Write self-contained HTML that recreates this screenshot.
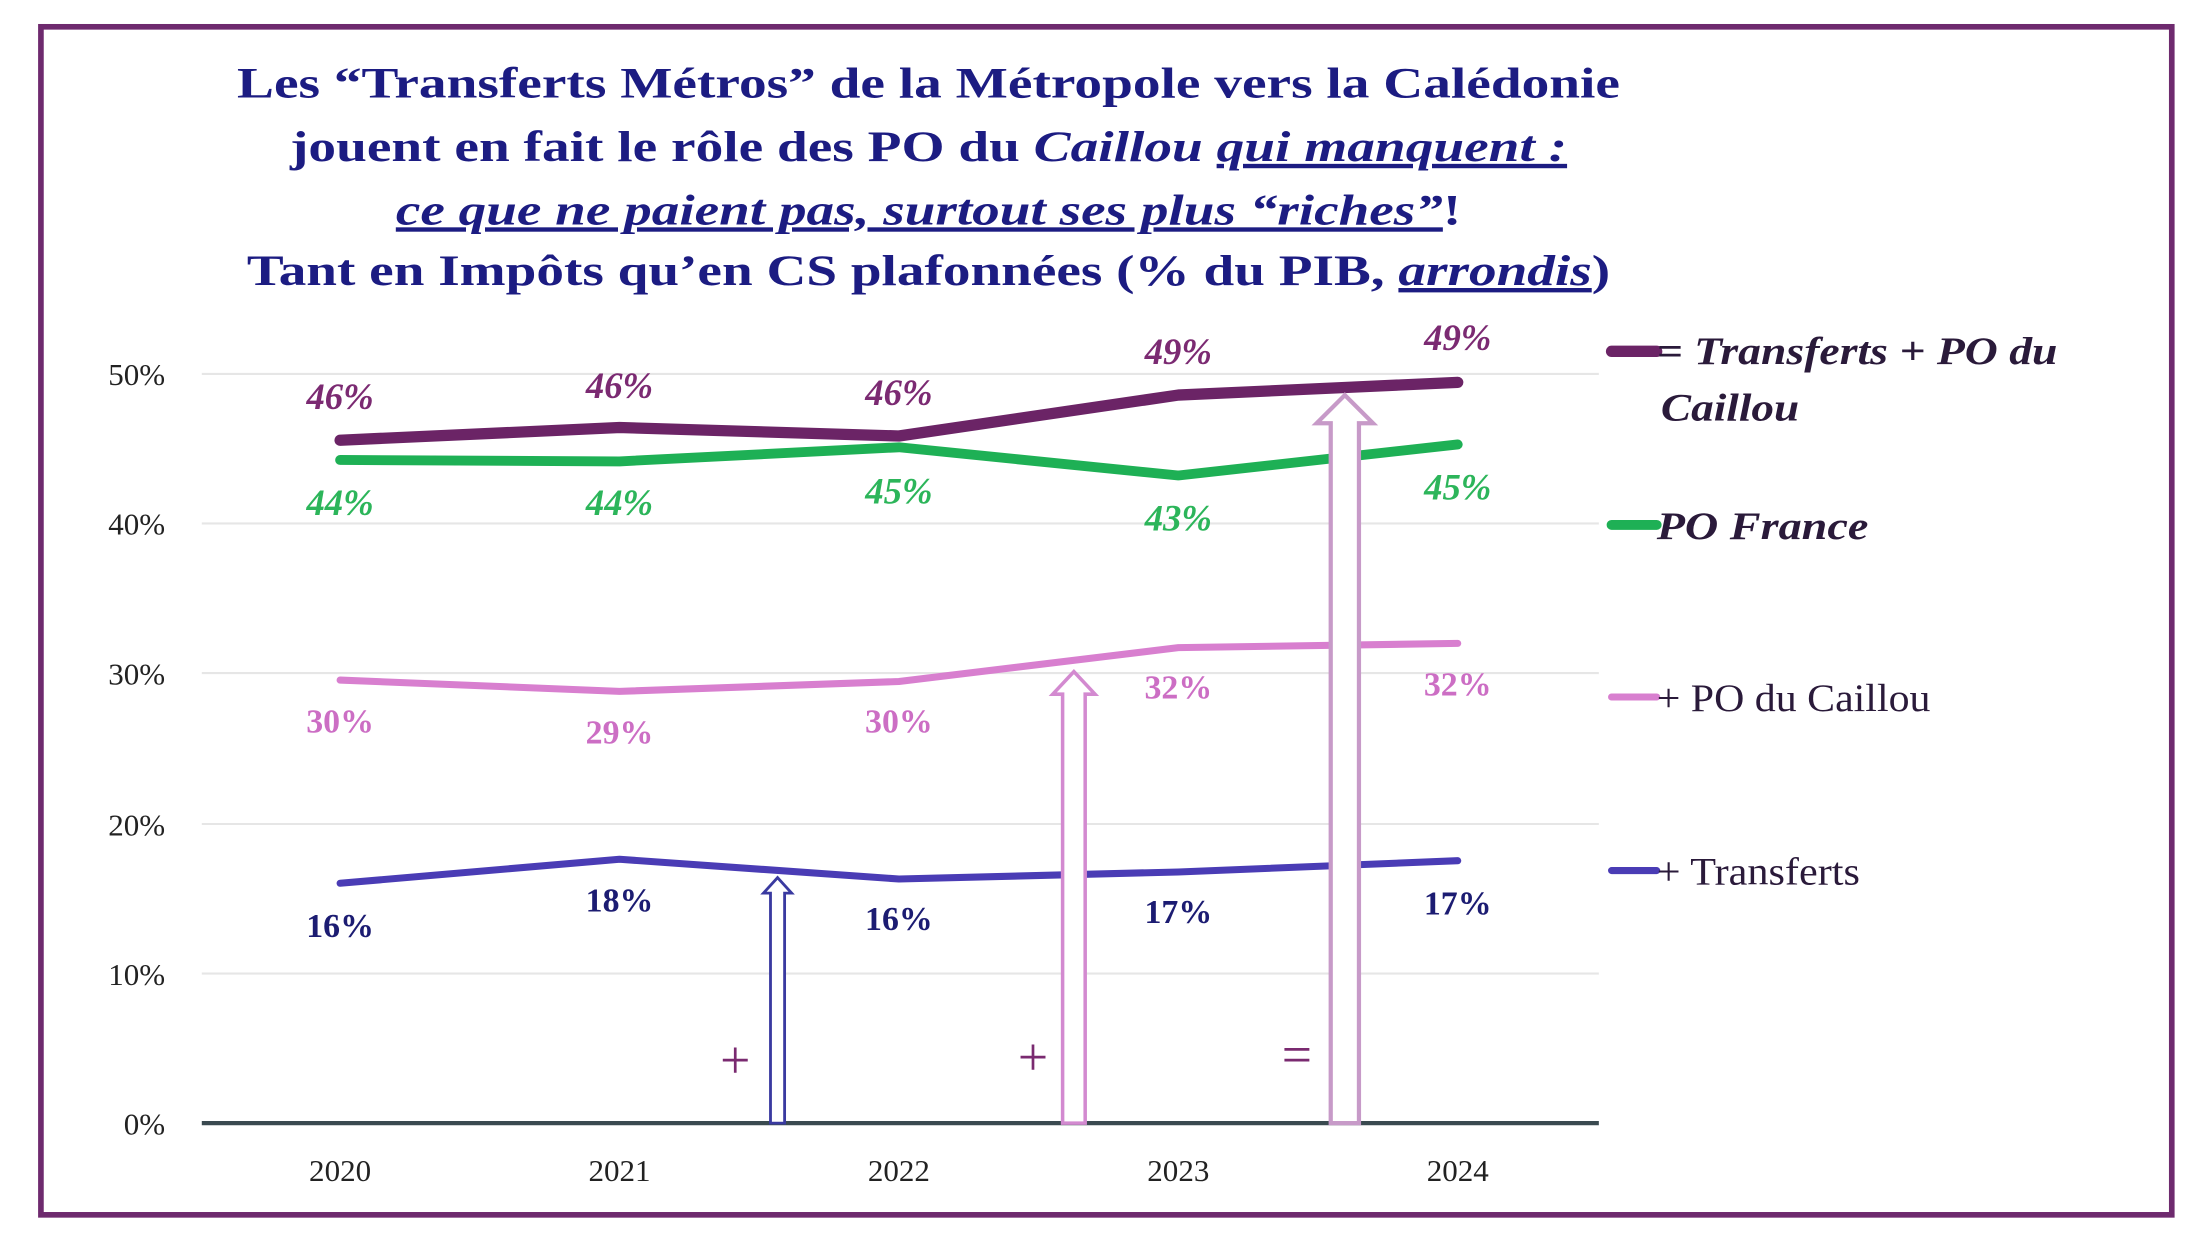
<!DOCTYPE html>
<html><head><meta charset="utf-8"><style>html,body{margin:0;padding:0;background:#fff}svg{display:block}</style></head>
<body>
<svg width="2200" height="1236" viewBox="0 0 1559 876" preserveAspectRatio="none" xmlns="http://www.w3.org/2000/svg">
<rect x="0" y="0" width="1559" height="876" fill="#fff"/>
<rect x="29" y="19" width="1510" height="842" fill="none" stroke="#6e2a6e" stroke-width="4"/>
<g font-family="Liberation Serif, serif" font-weight="bold" font-size="31" fill="#1c1c82" text-anchor="middle">
<text x="658" y="69" textLength="980" lengthAdjust="spacingAndGlyphs">Les “Transferts Métros” de la Métropole vers la Calédonie</text>
<text x="658" y="114" textLength="905" lengthAdjust="spacingAndGlyphs">jouent en fait le rôle des PO du <tspan font-style="italic">Caillou</tspan> <tspan font-style="italic" text-decoration="underline">qui manquent :</tspan></text>
<text x="658" y="159" textLength="755" lengthAdjust="spacingAndGlyphs"><tspan font-style="italic" text-decoration="underline">ce que ne paient pas, surtout ses plus “riches”</tspan>!</text>
<text x="658" y="202" textLength="966" lengthAdjust="spacingAndGlyphs">Tant en Impôts qu’en CS plafonnées (% du PIB, <tspan font-style="italic" text-decoration="underline">arrondis</tspan>)</text>
</g>
<g stroke="#e6e6e6" stroke-width="1.5">
<line x1="143" x2="1133" y1="265" y2="265"/><line x1="143" x2="1133" y1="371" y2="371"/>
<line x1="143" x2="1133" y1="477" y2="477"/><line x1="143" x2="1133" y1="584" y2="584"/>
<line x1="143" x2="1133" y1="690" y2="690"/>
</g>
<line x1="143" x2="1133" y1="796" y2="796" stroke="#3a4a50" stroke-width="3"/>
<g font-family="Liberation Serif, serif" font-size="22" fill="#222" text-anchor="end">
<text x="117" y="273">50%</text><text x="117" y="379">40%</text><text x="117" y="485">30%</text>
<text x="117" y="592">20%</text><text x="117" y="698">10%</text><text x="117" y="804">0%</text>
</g>
<g font-family="Liberation Serif, serif" font-size="22" fill="#222" text-anchor="middle">
<text x="241" y="837">2020</text><text x="439" y="837">2021</text><text x="637" y="837">2022</text><text x="835" y="837">2023</text><text x="1033" y="837">2024</text>
</g>
<g fill="none" stroke-linejoin="round" stroke-linecap="round">
<polyline points="241,312 439,303 637,309 835,280 1033,271" stroke="#6b2466" stroke-width="8"/>
<polyline points="241,326 439,327 637,317 835,337 1033,315" stroke="#1eb055" stroke-width="7"/>
<polyline points="241,482 439,490 637,483 835,459 1033,456" stroke="#d87fcf" stroke-width="5"/>
<polyline points="241,626 439,609 637,623 835,618 1033,610" stroke="#4a3cb5" stroke-width="5"/>
</g>
<path d="M546,796 V633 H541 L551,622 L561,633 H556 V796 Z" fill="#fff" stroke="#3a3aa0" stroke-width="2"/>
<path d="M753,796 V492 H746 L761,476 L776,492 H769 V796 Z" fill="#fff" stroke="#d38ad0" stroke-width="2.5"/>
<path d="M943,796 V300 H933 L953,280 L973,300 H963 V796 Z" fill="#fff" stroke="#c79ac8" stroke-width="3"/>
<g font-family="Liberation Serif, serif" font-size="38" fill="#7a2a70" text-anchor="middle">
<text x="521" y="764">+</text><text x="732" y="762">+</text><text x="919" y="760">=</text>
</g>
<g font-family="Liberation Serif, serif" font-weight="bold" font-size="26" text-anchor="middle">
<g fill="#7b2a72" font-style="italic">
<text x="241" y="290">46%</text><text x="439" y="282">46%</text><text x="637" y="287">46%</text><text x="835" y="258">49%</text><text x="1033" y="248">49%</text></g>
<g fill="#2cb55a" font-style="italic">
<text x="241" y="365">44%</text><text x="439" y="365">44%</text><text x="637" y="357">45%</text><text x="835" y="376">43%</text><text x="1033" y="354">45%</text></g>
<g fill="#cc6ec4" font-size="24">
<text x="241" y="519">30%</text><text x="439" y="527">29%</text><text x="637" y="519">30%</text><text x="835" y="495">32%</text><text x="1033" y="493">32%</text></g>
<g fill="#1c1c72" font-size="24">
<text x="241" y="664">16%</text><text x="439" y="646">18%</text><text x="637" y="659">16%</text><text x="835" y="654">17%</text><text x="1033" y="648">17%</text></g>
</g>
<g stroke-linecap="round">
<line x1="1142" x2="1174" y1="249" y2="249" stroke="#6b2466" stroke-width="8"/>
<line x1="1142" x2="1174" y1="372" y2="372" stroke="#1eb055" stroke-width="7"/>
<line x1="1142" x2="1174" y1="494" y2="494" stroke="#d87fcf" stroke-width="5"/>
<line x1="1142" x2="1174" y1="617" y2="617" stroke="#4a3cb5" stroke-width="5"/>
</g>
<g font-family="Liberation Serif, serif" font-size="28" fill="#2a1a3a">
<text x="1174" y="258" font-style="italic" font-weight="bold" textLength="284" lengthAdjust="spacingAndGlyphs">= Transferts + PO du</text>
<text x="1177" y="298" font-style="italic" font-weight="bold" textLength="98" lengthAdjust="spacingAndGlyphs">Caillou</text>
<text x="1174" y="382" font-style="italic" font-weight="bold" textLength="150" lengthAdjust="spacingAndGlyphs">PO France</text>
<text x="1174" y="504" textLength="194" lengthAdjust="spacingAndGlyphs">+ PO du Caillou</text>
<text x="1174" y="627" textLength="144" lengthAdjust="spacingAndGlyphs">+ Transferts</text>
</g>
</svg>
</body></html>
